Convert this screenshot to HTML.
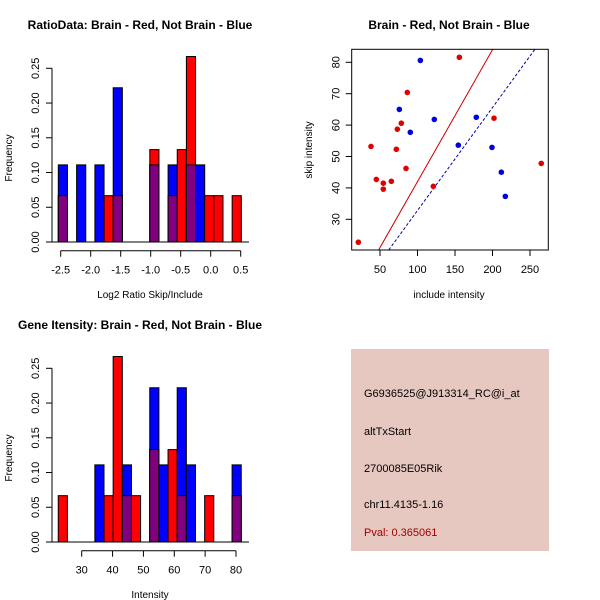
<!DOCTYPE html>
<html><head><meta charset="utf-8"><style>
body{margin:0;background:#fff}
svg{display:block;font-family:"Liberation Sans",sans-serif}
</style></head><body>
<svg id="c" width="600" height="600" viewBox="0 0 600 600">
<rect width="600" height="600" fill="#fff"/>
<text x="140" y="29" font-size="12" font-weight="bold" text-anchor="middle">RatioData: Brain - Red, Not Brain - Blue</text>
<text x="449" y="29" font-size="12" font-weight="bold" text-anchor="middle">Brain - Red, Not Brain - Blue</text>
<text x="140" y="329" font-size="12" font-weight="bold" text-anchor="middle">Gene Itensity: Brain - Red, Not Brain - Blue</text>
<g id="p1"></g>
<g id="p2"></g>
<g id="p3"></g>
<g>
<rect x="351" y="349" width="198" height="202" fill="#e6c8c0"/>
<text x="364" y="397" font-size="11">G6936525@J913314_RC@i_at</text>
<text x="364" y="435" font-size="11">altTxStart</text>
<text x="364" y="472" font-size="11">2700085E05Rik</text>
<text x="364" y="508" font-size="11">chr11.4135-1.16</text>
<text x="364" y="536" font-size="11" fill="#a00000">Pval: 0.365061</text>
</g>
</svg>
<script>
// Ratio histogram data (20 bins)
const ratioBinStart = -2.54;
const ratioBinWidth = 0.1525;
const ratioRed  = [0.0667,0,0,0,0,0.0667,0.0667,0,0,0,0.133,0,0.0667,0.133,0.267,0,0.0667,0.0667,0,0.0667];
const ratioBlue = [0.111,0,0.111,0,0.111,0,0.222,0,0,0,0.111,0,0.111,0,0.111,0.111,0,0,0,0];
const ratioTicks = [-2.5,-2.0,-1.5,-1.0,-0.5,0.0,0.5];
const ratioTickLabels = ["-2.5","-2.0","-1.5","-1.0","-0.5","0.0","0.5"];
// Intensity histogram data (20 bins)
const intBinStart = 22.4;
const intBinWidth = 2.965;
const intRed  = [0.0667,0,0,0,0,0.0667,0.267,0.0667,0.0667,0,0.133,0,0.133,0.0667,0,0,0.0667,0,0,0.0667];
const intBlue = [0,0,0,0,0.111,0,0,0.111,0,0,0.222,0.111,0,0.222,0.111,0,0,0,0,0.111];
const intTicks = [30,40,50,60,70,80];
const freqTicks = [0,0.05,0.10,0.15,0.20,0.25];
const freqTickLabels = ["0.00","0.05","0.10","0.15","0.20","0.25"];
// Scatter data
const redX = [21.1,38,45.1,54.4,54.4,65.1,71.8,73.1,78.4,84.7,86.4,121.1,155.8,202,265];
const redY = [22.7,53.2,42.7,41.5,39.6,42.1,52.3,58.7,60.6,46.2,70.4,40.5,81.6,62.2,47.8];
const blueX = [75.8,90.4,103.8,122.4,154.4,178.4,199.3,211.8,217.1];
const blueY = [65,57.7,80.6,61.8,53.6,62.5,52.9,45,37.3];
const redSlope = 0.42;
const blueSlope = 0.328;
const scX = [50,100,150,200,250];
const scY = [30,40,50,60,70,80];

const NS="http://www.w3.org/2000/svg";
function mk(parent,tag,attrs,text){const e=document.createElementNS(NS,tag);for(const k in attrs)e.setAttribute(k,attrs[k]);if(text!==undefined)e.textContent=text;parent.appendChild(e);return e;}

function hist(g,oy,start,width,red,blue,ticks,labels,x0px,x1px,v0,v1,xlabel){
  const sx=v=>x0px+(v-v0)*(x1px-x0px)/(v1-v0);
  const sy=f=>oy+242-f*(242-68.3)/0.25;
  for(let i=0;i<red.length;i++){
    const l=sx(start+i*width), r=sx(start+(i+1)*width);
    const b=blue[i], rd=red[i], m=Math.min(b,rd);
    if(b>0){const e=mk(g,'rect',{x:l,y:sy(b),width:r-l,height:sy(0)-sy(b),fill:'#0000ff',stroke:'#000','stroke-width':1});
      
      }
    if(rd>0){const e=mk(g,'rect',{x:l,y:sy(rd),width:r-l,height:sy(0)-sy(rd),fill:'#ff0000',stroke:'#000','stroke-width':1});
      
      }
    if(m>0){const e=mk(g,'rect',{x:l,y:sy(m),width:r-l,height:sy(0)-sy(m),fill:'#800080',stroke:'#000','stroke-width':1});
      
      }
  }
  mk(g,'line',{x1:52,y1:sy(0),x2:249,y2:sy(0),stroke:'#000'});
  mk(g,'line',{x1:52,y1:sy(0),x2:52,y2:sy(0.25),stroke:'#000'});
  freqTicks.forEach((t,i)=>{mk(g,'line',{x1:46,y1:sy(t),x2:52,y2:sy(t),stroke:'#000'});
    const e=mk(g,'text',{x:0,y:0,'font-size':11,'text-anchor':'middle',transform:`translate(39,${sy(t)}) rotate(-90)`},freqTickLabels[i]);
    
    });
  const yt=mk(g,'text',{x:0,y:0,'font-size':10,'text-anchor':'middle',transform:`translate(12,${oy+158}) rotate(-90)`},'Frequency');
  
  
  const ay=oy+250.7;
  mk(g,'line',{x1:sx(ticks[0]),y1:ay,x2:sx(ticks[ticks.length-1]),y2:ay,stroke:'#000'});
  ticks.forEach((t,i)=>{mk(g,'line',{x1:sx(t),y1:ay,x2:sx(t),y2:ay+6,stroke:'#000'});
    const e=mk(g,'text',{x:sx(t),y:ay+23,'font-size':11,'text-anchor':'middle'},labels[i]);
    
    });
  const xt=mk(g,'text',{x:150,y:oy+298,'font-size':10,'text-anchor':'middle'},xlabel);
  
  
}
hist(document.getElementById('p1'),0,ratioBinStart,ratioBinWidth,ratioRed,ratioBlue,ratioTicks,ratioTickLabels,60.7,240.7,-2.5,0.5,'Log2 Ratio Skip/Include');
hist(document.getElementById('p3'),300,intBinStart,intBinWidth,intRed,intBlue,intTicks,intTicks.map(String),81.7,236,30,80,'Intensity');

(function(){
  const g=document.getElementById('p2');
  const L=351.7,R=548.3,T=49.3,B=250;
  const sx=v=>380+(v-50)*0.75;
  const sy=v=>62.3+(80-v)*(219.3-62.3)/50;
  const iy=p=>80-(p-62.3)*50/(219.3-62.3);
  mk(g,'defs',{}).innerHTML='<clipPath id="clp"><rect x="'+L+'" y="'+T+'" width="'+(R-L)+'" height="'+(B-T)+'"/></clipPath>';
  const lg=mk(g,'g',{'clip-path':'url(#clp)'});
  const yb=iy(B), ytp=iy(T);
  const rl=mk(lg,'line',{x1:sx(yb/redSlope),y1:B,x2:sx(ytp/redSlope),y2:T,stroke:'#cc0000'});
  
  
  const bl=mk(lg,'line',{x1:sx(yb/blueSlope),y1:B,x2:sx(ytp/blueSlope),y2:T,stroke:'#0000aa','stroke-dasharray':'3,2'});
  
  
  redX.forEach((x,i)=>{const e=mk(g,'circle',{cx:sx(x),cy:sy(redY[i]),r:2.8,fill:'#e00000'});
    
    });
  blueX.forEach((x,i)=>{const e=mk(g,'circle',{cx:sx(x),cy:sy(blueY[i]),r:2.8,fill:'#0000dd'});
    
    });
  mk(g,'rect',{x:L,y:T,width:R-L,height:B-T,fill:'none',stroke:'#000'});
  scX.forEach(t=>{mk(g,'line',{x1:sx(t),y1:B,x2:sx(t),y2:B+6,stroke:'#000'});
    const e=mk(g,'text',{x:sx(t),y:B+23,'font-size':11,'text-anchor':'middle'},String(t));
    
    });
  scY.forEach(t=>{mk(g,'line',{x1:L-6,y1:sy(t),x2:L,y2:sy(t),stroke:'#000'});
    const e=mk(g,'text',{x:0,y:0,'font-size':11,'text-anchor':'middle',transform:`translate(${L-12},${sy(t)}) rotate(-90)`},String(t));
    
    });
  const xt=mk(g,'text',{x:449,y:298,'font-size':10,'text-anchor':'middle'},'include intensity');
  
  
  const yt=mk(g,'text',{x:0,y:0,'font-size':10,'text-anchor':'middle',transform:'translate(312,150) rotate(-90)'},'skip intensity');
  
  
})();
</script>
</body></html>
